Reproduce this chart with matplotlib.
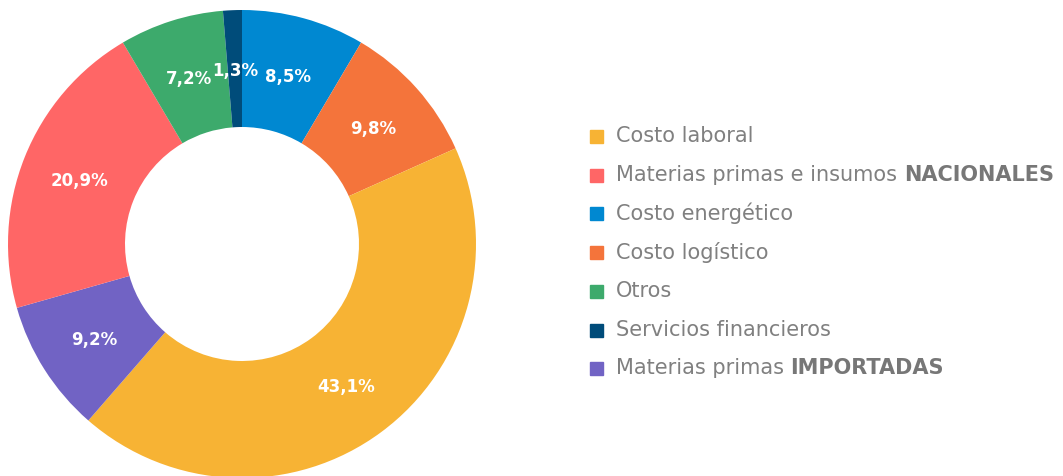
import matplotlib
matplotlib.use("Agg")
import matplotlib.pyplot as plt
from matplotlib.patches import Rectangle
import numpy as np

# datos (sentido horario desde arriba)
valores = [8.5, 9.8, 43.1, 9.2, 20.9, 7.2, 1.3]
colores_pie = ["#0088D1", "#F4743B", "#F7B334", "#7163C4", "#FF6666", "#3DAA6C", "#004C7A"]
etiquetas_pct = ["8,5%", "9,8%", "43,1%", "9,2%", "20,9%", "7,2%", "1,3%"]

# leyenda
ley_normal = ["Costo laboral", "Materias primas e insumos ", "Costo energético",
              "Costo logístico", "Otros", "Servicios financieros", "Materias primas "]
ley_negrita = ["", "NACIONALES", "", "", "", "", "IMPORTADAS"]
ley_colores = ["#F7B334", "#FF6666", "#0088D1", "#F4743B", "#3DAA6C", "#004C7A", "#7163C4"]

plt.rcParams['font.family'] = ['DejaVu Sans']

W, H = 1063, 476
fig = plt.figure(figsize=(W / 100, H / 100), dpi=100)

ax = fig.add_axes([8 / W, -2 / H, 468 / W, 468 / H])
wedges, _ = ax.pie(valores, colors=colores_pie, startangle=90, counterclock=False,
                   radius=1, wedgeprops=dict(width=0.5, edgecolor='none'))
ang = 90
for v, lab in zip(valores, etiquetas_pct):
    mid = np.deg2rad(ang - v * 3.6 / 2)
    ang -= v * 3.6
    ax.text(0.75 * np.cos(mid), 0.75 * np.sin(mid) - 0.008, lab, color='white',
            fontsize=12, fontweight='bold', ha='center', va='center')
ax.set_xlim(-1, 1)
ax.set_ylim(-1, 1)
ax.set_aspect('equal')
ax.axis('off')

# leyenda manual
lax = fig.add_axes([0, 0, 1, 1])
lax.set_xlim(0, W)
lax.set_ylim(H, 0)
lax.axis('off')
fig.canvas.draw()
renderer = fig.canvas.get_renderer()
y0, dy = 136, 38.7
for i, (t, b, c) in enumerate(zip(ley_normal, ley_negrita, ley_colores)):
    y = y0 + i * dy
    lax.add_patch(Rectangle((590, y - 6), 13, 13, color=c))
    txt = lax.text(616, y, t, fontsize=15, color='#808080', va='center', ha='left')
    if b:
        bb = txt.get_window_extent(renderer=renderer)
        lax.text(bb.x1, H - y, b, fontsize=15, color='#777777', fontweight='bold',
                 va='center', ha='left', transform=None)

fig.savefig("out.png", dpi=100)
